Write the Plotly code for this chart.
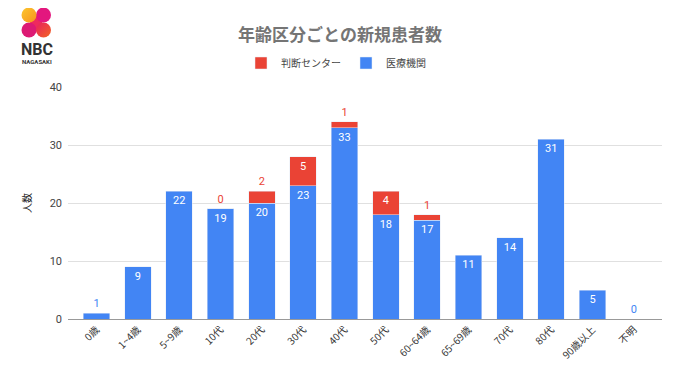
import base64
import plotly.graph_objects as go

categories = ["0歳", "1~4歳", "5~9歳", "10代", "20代", "30代", "40代", "50代",
              "60~64歳", "65~69歳", "70代", "80代", "90歳以上", "不明"]
iryo_kikan = [1, 9, 22, 19, 20, 23, 33, 18, 17, 11, 14, 31, 5, 0]
handan_center = [None, None, None, 0, 2, 5, 1, 4, 1, None, None, None, None, None]
y_ticks = [0, 10, 20, 30, 40]

BLUE = "#4285f4"
RED = "#ea4335"

# the page adds an 8px body margin; work in page pixels and subtract it
OFF = 8
W, H = 680 - OFF, 382 - OFF
L, R, T, B = 68 - OFF, 662 - OFF, 87 - OFF, 319 - OFF


def px(x):
    return (x - OFF - L) / (R - L)


def py(y):
    return (B - (y - OFF)) / (B - T)


def blue_pos(v, r):
    return "outside" if (r is None and v <= 3) else "inside"


def red_pos(v):
    return "inside" if (v is not None and v >= 3) else "outside"


fig = go.Figure()
fig.add_trace(go.Bar(
    x=categories, y=iryo_kikan, name="医療機関", marker_color=BLUE,
    text=[str(v) for v in iryo_kikan],
    textposition=[blue_pos(v, r) for v, r in zip(iryo_kikan, handan_center)],
    insidetextanchor="end",
    insidetextfont=dict(color="white", size=11, family="Roboto"),
    outsidetextfont=dict(color=BLUE, size=11, family="Roboto"),
    cliponaxis=False,
))
fig.add_trace(go.Bar(
    x=categories, y=handan_center, name="判断センター", marker_color=RED,
    text=["" if v is None else str(v) for v in handan_center],
    textposition=[red_pos(v) for v in handan_center],
    insidetextanchor="end",
    insidetextfont=dict(color="white", size=11, family="Roboto"),
    outsidetextfont=dict(color=RED, size=11, family="Roboto"),
    cliponaxis=False,
))

# logo graphic (SVG)
svg = """<svg xmlns='http://www.w3.org/2000/svg' width='40' height='40' viewBox='0 0 40 40'>
<defs>
<linearGradient id='g1' x1='0' y1='0' x2='1' y2='1'><stop offset='0' stop-color='#fcc72e'/><stop offset='1' stop-color='#f7931e'/></linearGradient>
<linearGradient id='g2' x1='0' y1='0' x2='1' y2='1'><stop offset='0' stop-color='#e8205f'/><stop offset='1' stop-color='#f26522'/></linearGradient>
</defs>
<path d='M8 9 L16 9 L29 27 L29 33 L21 33 L8 15 Z' fill='#ee2a5e'/>
<circle cx='25.5' cy='13' r='7.5' fill='#e3177e'/>
<circle cx='11' cy='28' r='7.5' fill='#dc1a74'/>
<circle cx='11' cy='13' r='7.5' fill='url(#g1)'/>
<circle cx='25.5' cy='28' r='7.5' fill='url(#g2)'/>
</svg>"""
src = "data:image/svg+xml;base64," + base64.b64encode(svg.encode()).decode()

fig.update_layout(
    width=W, height=H,
    barmode="stack", bargap=0.36,
    plot_bgcolor="white", paper_bgcolor="white",
    margin=dict(l=L, r=W - R, t=T, b=H - B, pad=0),
    title=dict(text="<b>年齢区分ごとの新規患者数</b>", x=px(340), xref="paper", xanchor="center",
               y=1 - (35 - OFF) / H, yanchor="middle",
               font=dict(family="Noto Sans CJK JP", size=17, color="#757575")),
    legend=dict(orientation="h", x=px(336), xanchor="center", y=py(63), yanchor="middle",
                traceorder="reversed", itemwidth=30,
                font=dict(family="Noto Sans CJK JP", size=10, color="#444444")),
    font=dict(family="Roboto, Noto Sans CJK JP", color="#444444"),
    xaxis=dict(range=[-0.69, 13.68], tickangle=-45, showgrid=False,
               showline=True, linecolor="#999999", linewidth=1,
               tickfont=dict(family="Noto Sans CJK JP", size=10, color="#333333"),
               ticks=""),
    yaxis=dict(range=[0, 40], tickvals=y_ticks, showgrid=True, gridcolor="#e0e0e0",
               zeroline=False, ticks="", ticklabelstandoff=5,
               tickfont=dict(family="Roboto", size=11, color="#444444"),
               title=dict(text="人数", standoff=16,
                          font=dict(family="Noto Sans CJK JP", size=10, color="#222222"))),
    images=[dict(source=src, xref="paper", yref="paper", x=px(18), y=py(2),
                 sizex=40 / (R - L), sizey=40 / (B - T), sizing="stretch",
                 xanchor="left", yanchor="top", layer="above")],
    annotations=[
        dict(text="<b>NBC</b>", x=px(37), y=py(50), xref="paper", yref="paper",
             showarrow=False, xanchor="center", yanchor="middle",
             font=dict(family="Roboto", size=16, color="#333333")),
        dict(text="<b>NAGASAKI</b>", x=px(37), y=py(61), xref="paper", yref="paper",
             showarrow=False, xanchor="center", yanchor="middle",
             font=dict(family="Roboto", size=6, color="#333333")),
    ],
)

fig.write_html("out.html")
